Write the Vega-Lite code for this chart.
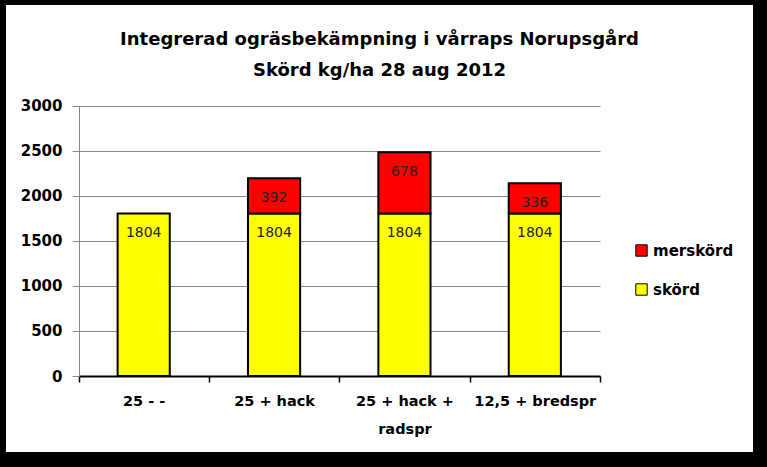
{
  "$schema": "https://vega.github.io/schema/vega-lite/v6.json",
  "width": 747,
  "height": 447,
  "autosize": {"type": "none"},
  "padding": {"left": 6, "top": 5, "right": 14, "bottom": 15},
  "background": "black",
  "config": {"view": {"fill": "white", "stroke": null}},
  "title": {
    "text": ["Integrerad ogräsbekämpning i vårraps Norupsgård", "Skörd kg/ha 28 aug 2012"],
    "font": "DejaVu Sans",
    "fontSize": 18,
    "fontWeight": "bold",
    "color": "black",
    "anchor": "middle",
    "frame": "group",
    "baseline": "top",
    "offset": -75,
    "lineHeight": 31
  },
  "data": {
    "values": [
      {"cat": "25 -  -", "series": "skörd", "value": 1804},
      {"cat": "25 + hack", "series": "skörd", "value": 1804},
      {"cat": "25 + hack", "series": "merskörd", "value": 392},
      {"cat": "25 + hack + radspr", "series": "skörd", "value": 1804},
      {"cat": "25 + hack + radspr", "series": "merskörd", "value": 678},
      {"cat": "12,5 + bredspr", "series": "skörd", "value": 1804},
      {"cat": "12,5 + bredspr", "series": "merskörd", "value": 336}
    ]
  },
  "transform": [
    {"stack": "value", "groupby": ["cat"], "sort": [{"field": "series", "order": "descending"}], "as": ["v0", "v1"]}
  ],
  "encoding": {
    "x": {
      "field": "cat",
      "type": "nominal",
      "sort": null,
      "scale": {"range": [72.5, 594], "paddingInner": 0, "paddingOuter": 0},
      "axis": {
        "title": null,
        "orient": "bottom",
        "offset": -76,
        "labelAngle": 0,
        "domainColor": "black",
        "domainWidth": 2,
        "tickColor": "black",
        "tickWidth": 1.5,
        "tickSize": 6,
        "tickBand": "extent",
        "labelFont": "DejaVu Sans",
        "labelFontSize": 14.5,
        "labelFontWeight": "bold",
        "labelColor": "black",
        "labelPadding": 12,
        "labelLineHeight": 28,
        "labelBaseline": "top",
        "labelLimit": 0,
        "labelExpr": "datum.value == '25 + hack + radspr' ? ['25 + hack +', 'radspr'] : datum.value"
      }
    }
  },
  "layer": [
    {
      "mark": {"type": "bar", "stroke": "black", "strokeWidth": 2, "width": {"band": 0.4}},
      "encoding": {
        "y": {
          "field": "v0",
          "type": "quantitative",
          "scale": {"domain": [0, 3000], "range": [371, 100.7], "nice": false},
          "axis": {
            "title": null,
            "values": [0, 500, 1000, 1500, 2000, 2500, 3000],
            "format": "d",
            "offset": -73,
            "domainColor": "#888888",
            "tickColor": "#888888",
            "tickSize": 7,
            "grid": true,
            "gridColor": "#888888",
            "gridOpacity": 1,
            "labelFont": "DejaVu Sans",
            "labelFontSize": 15,
            "labelFontWeight": "bold",
            "labelColor": "black",
            "labelPadding": 10
          }
        },
        "y2": {"field": "v1"},
        "color": {
          "field": "series",
          "type": "nominal",
          "scale": {"domain": ["merskörd", "skörd"], "range": ["#FF0000", "#FFFF00"]},
          "legend": {
            "title": null,
            "orient": "none",
            "legendX": 628,
            "legendY": 238,
            "symbolType": "square",
            "symbolSize": 130,
            "symbolStrokeColor": "black",
            "symbolStrokeWidth": 1,
            "labelFont": "DejaVu Sans",
            "labelFontSize": 15,
            "labelFontWeight": "bold",
            "labelColor": "black",
            "rowPadding": 22,
            "labelOffset": 4,
            "padding": 0
          }
        }
      }
    },
    {
      "mark": {"type": "text", "font": "DejaVu Sans", "fontSize": 14, "color": "#222222", "baseline": "middle", "dy": 20},
      "encoding": {
        "y": {"field": "v1", "type": "quantitative", "axis": {"title": null}},
        "text": {"field": "value", "type": "quantitative", "format": "d"}
      }
    }
  ]
}
